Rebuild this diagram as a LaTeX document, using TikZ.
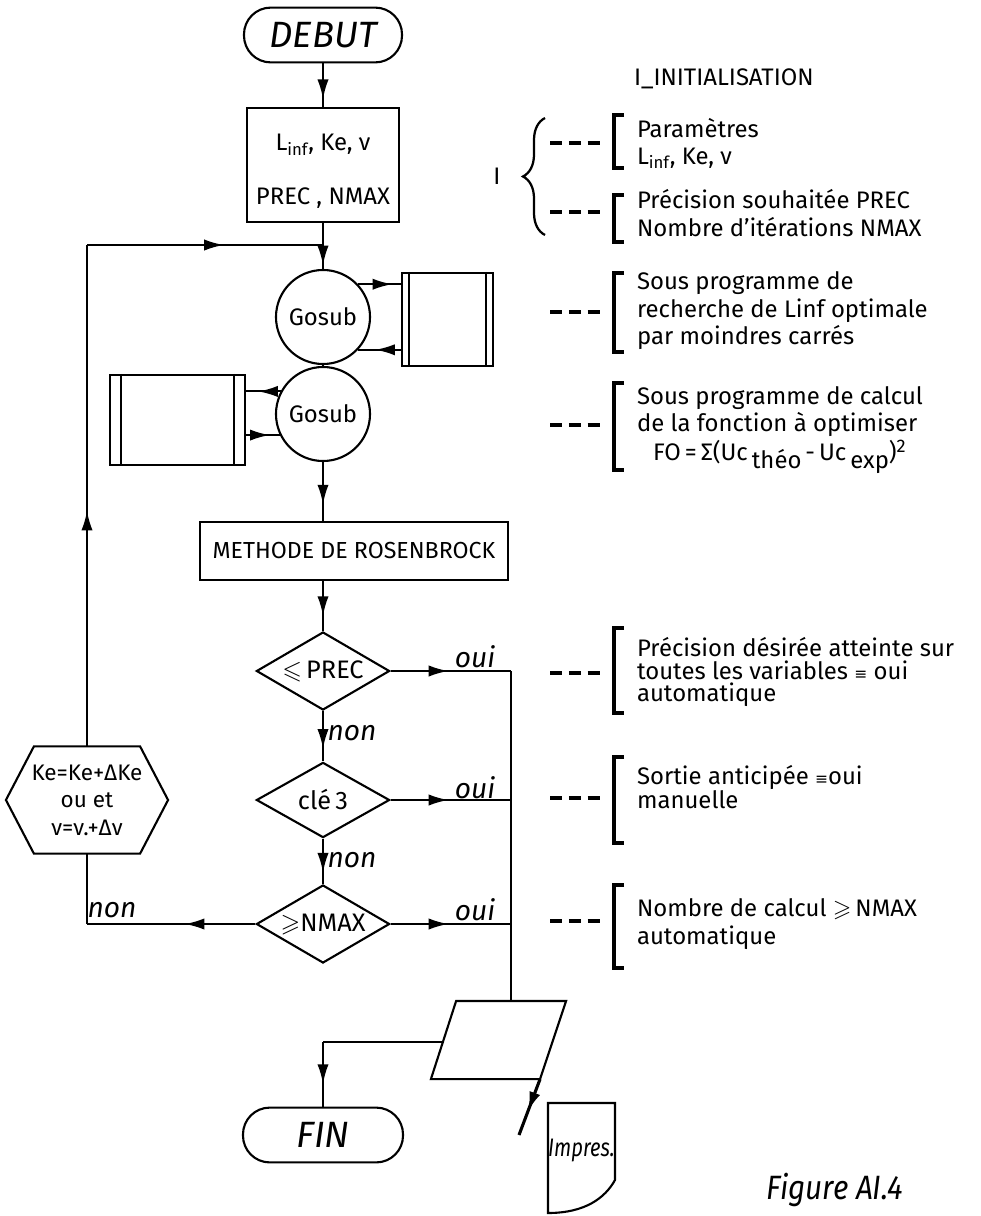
\documentclass[tikz,border=0pt]{standalone}
\usepackage{amssymb}
\usepackage{fontspec}
\setmainfont{Fira Sans}
\newfontfamily\symfont{DejaVu Sans}
\usepackage{graphicx}
\usetikzlibrary{shapes.geometric,decorations.markings,decorations.pathreplacing,arrows.meta,calc}
\begin{document}
\begin{tikzpicture}[x=0.025cm,y=-0.025cm,line width=1.5pt,
 ma/.style={postaction={decorate,decoration={markings,mark=at position #1 with {\arrow{Latex[length=14pt,width=8pt]}}}}},
 ma/.default=0.6,
 f17/.style={font=\fontsize{17}{20}\selectfont},
 term/.style={draw,rounded corners=0.67cm,minimum width=3.95cm,minimum height=1.37cm,inner sep=0pt,font=\fontsize{26}{28}\selectfont\itshape},
 proc/.style={draw,rectangle,inner sep=0pt,f17},
 gos/.style={draw,circle,minimum size=2.35cm,inner sep=0pt,f17},
 sub/.style={draw,rectangle,inner sep=0pt},
 dec/.style={draw,diamond,aspect=1.7,minimum width=3.33cm,minimum height=1.95cm,inner sep=0pt,font=\fontsize{18}{20}\selectfont},
 lab/.style={font=\fontsize{20}{22}\selectfont\itshape,inner sep=0pt},
 ann/.style={anchor=base west,inner sep=0pt,f17},
 dsh/.style={line width=3pt,dash pattern=on 0.3cm off 0.17cm},
 brk/.style={line width=3.5pt}
]
\useasboundingbox (0,0) rectangle (980,1216);

% ---------- main column ----------
\node[term] (debut) at (323,35) {DEBUT};
\node[proc,minimum width=3.8cm,minimum height=2.85cm] (box1) at (323,165) {};
\node[f17,inner sep=0pt] (t1a) at (323,145) {L\textsubscript{inf}, Ke, ν};
\node[f17,inner sep=0pt] (t1b) at (323,198) {PREC , NMAX};
\node[gos] (gos1) at (323,317) {Gosub};
\node[gos] (gos2) at (323,414) {Gosub};
\node[sub,minimum width=2.28cm,minimum height=2.33cm] (sub1) at (447.5,319.5) {};
\draw ([xshift=0.2cm]sub1.north west) -- ([xshift=0.2cm]sub1.south west);
\draw ([xshift=-0.2cm]sub1.north east) -- ([xshift=-0.2cm]sub1.south east);
\node[sub,minimum width=3.38cm,minimum height=2.25cm] (sub2) at (177.5,420) {};
\draw ([xshift=0.3cm]sub2.north west) -- ([xshift=0.3cm]sub2.south west);
\draw ([xshift=-0.3cm]sub2.north east) -- ([xshift=-0.3cm]sub2.south east);
\node[proc,minimum width=7.7cm,minimum height=1.45cm,font=\fontsize{16.5}{18}\selectfont] (rosen) at (354,551) {METHODE DE ROSENBROCK};
\node[dec] (d1) at (323,671) {$\leqslant$\,PREC};
\node[dec,minimum height=1.88cm] (d2) at (323,800) {clé\,3};
\node[dec] (d3) at (323,924) {$\geqslant$NMAX};
\node[inner sep=0pt,minimum width=4cm,minimum height=2.63cm,align=center,font=\fontsize{16}{19.5}\selectfont] (hex) at (87,800) {Ke=Ke+ΔKe\\ou et\\ν=ν.+Δν};
\draw (hex.west) -- ([xshift=0.7cm]hex.north west) -- ([xshift=-0.7cm]hex.north east) -- (hex.east) -- ([xshift=-0.7cm]hex.south east) -- ([xshift=0.7cm]hex.south west) -- cycle;
\node[inner sep=0pt,minimum width=3.325cm,minimum height=1.9cm] (para) at (498.5,1040) {};
\draw ([xshift=0.63cm]para.north west) -- (para.north east) -- ([xshift=-0.65cm]para.south east) -- (para.south west) -- cycle;
\node[term,minimum width=4cm] (fin) at (323,1135) {FIN};
\node[inner sep=0pt,minimum width=1.68cm,minimum height=2.75cm,font=\fontsize{18}{20}\selectfont\itshape] (imp) at (581.5,1150) {\scalebox{0.8}[1]{Impres.}};
\draw (548,1103) -- (615,1103) -- (615,1180) .. controls (605,1198) and (585,1213) .. (548,1213) -- cycle;

% ---------- connectors ----------
\coordinate (busx) at (511,0);
\coordinate (join) at (323,245);
\coordinate (outend) at (519,1135);
\draw[ma=0.82] (debut) -- (box1);
\draw[ma=0.92] (box1) -- (gos1);
\draw (gos1) -- (gos2);
\draw[ma=0.8] (gos1.43) -- (gos1.43 -| sub1.west);
\draw[ma=0.6] (gos1.-43 -| sub1.west) -- (gos1.-43);
\draw[ma=0.65] (gos2.152) -- (gos2.152 -| sub2.east);
\draw[ma=0.7] (gos2.206 -| sub2.east) -- (gos2.206);
\draw[ma=0.72] (gos2.south) -- (gos2.south |- rosen.north);
\draw[ma=0.7] (d1.north |- rosen.south) -- (d1.north);
\draw[ma=0.75] (d1) -- (d2);
\draw[ma=0.75] (d2) -- (d3);
\draw[ma=0.48] (d1.east) -- (d1.east -| busx);
\draw[ma=0.48] (d2.east) -- (d2.east -| busx);
\draw[ma=0.48] (d3.east) -- (d3.east -| busx);
\draw (d1.east -| busx) -- (para.north -| busx);
\draw[ma=0.42] (d3.west) -- (d3.west -| hex.south);
\draw (d3.west -| hex.south) -- (hex.south);
\draw[ma=0.47] (hex.north) -- (hex.north |- join);
\draw[ma=0.58] (hex.north |- join) -- (join);
\draw ([yshift=-0.05cm]para.west) ++(0.33cm,0) coordinate (pl) -- (pl -| fin.north);
\draw[ma=0.65] (pl -| fin.north) -- (fin.north);
\draw[line width=2.2pt,ma=0.58] ([xshift=-0.65cm]para.south east) -- (outend);

% labels on connectors
\node[lab] (oui1) at (475,657) {oui};
\node[lab] (oui2) at (475,788) {oui};
\node[lab] (oui3) at (475,910) {oui};
\node[lab] (non1) at (352,733) {non};
\node[lab] (non2) at (352,860) {non};
\node[lab] (non3) at (112,910) {non};

% ---------- annotations ----------
\node[ann] (init) at (633,86) {I\_INITIALISATION};
\node[f17,inner sep=0pt] (roman) at (497,176) {I};
\draw[line width=1.6pt,decorate,decoration={brace,amplitude=0.55cm}] (545,235) -- (545,118);
% group 1
\draw[dsh] (550,143) -- (604,143);
\draw[brk] (624,115) -- (614,115) -- (614,168) -- (624,168);
\node[ann] (a1) at (636,137) {Paramètres};
\node[ann] (a2) at (636,164) {L\textsubscript{inf}, Ke, ν};
\draw[dsh] (550,212) -- (604,212);
\draw[brk] (624,195) -- (614,195) -- (614,242) -- (624,242);
\node[ann] (a3) at (636,208) {Précision souhaitée PREC};
\node[ann] (a4) at (636,236) {Nombre d’itérations NMAX};
% group 2
\draw[dsh] (550,312) -- (604,312);
\draw[brk] (624,273) -- (614,273) -- (614,352) -- (624,352);
\node[ann] (b1) at (636,289) {Sous programme de};
\node[ann] (b2) at (636,317) {recherche de Linf optimale};
\node[ann] (b3) at (636,344) {par moindres carrés};
% group 3
\draw[dsh] (550,425) -- (604,425);
\draw[brk] (624,383) -- (614,383) -- (614,470) -- (624,470);
\node[ann] (c1) at (636,404) {Sous programme de calcul};
\node[ann] (c2) at (636,431) {de la fonction à optimiser};
\node[ann] (c3) at (652,460) {FO\,=\,Σ(Uc\raisebox{-0.22cm}{\,théo}\,-\,Uc\raisebox{-0.22cm}{\,exp})\raisebox{0.2cm}{\fontsize{13}{13}\selectfont 2}};
% group 4
\draw[dsh] (550,673) -- (604,673);
\draw[brk] (624,628) -- (614,628) -- (614,713) -- (624,713);
\node[ann] (e1) at (636,656) {Précision désirée atteinte sur};
\node[ann] (e2) at (636,679) {toutes les variables {\symfont\fontsize{11}{11}\selectfont ≡} oui};
\node[ann] (e3) at (636,701) {automatique};
% group 5
\draw[dsh] (550,798) -- (604,798);
\draw[brk] (624,757) -- (614,757) -- (614,843) -- (624,843);
\node[ann] (g1) at (636,784) {Sortie anticipée {\symfont\fontsize{11}{11}\selectfont ≡}oui};
\node[ann] (g2) at (636,808) {manuelle};
% group 6
\draw[dsh] (550,921) -- (604,921);
\draw[brk] (624,885) -- (614,885) -- (614,968) -- (624,968);
\node[ann] (h1) at (636,916) {Nombre de calcul $\geqslant$\,NMAX};
\node[ann] (h2) at (636,944) {automatique};

\node[font=\fontsize{24}{26}\selectfont\itshape,inner sep=0pt] (fig) at (835,1190) {\scalebox{0.88}[1]{Figure AI.4}};
\end{tikzpicture}
\end{document}
